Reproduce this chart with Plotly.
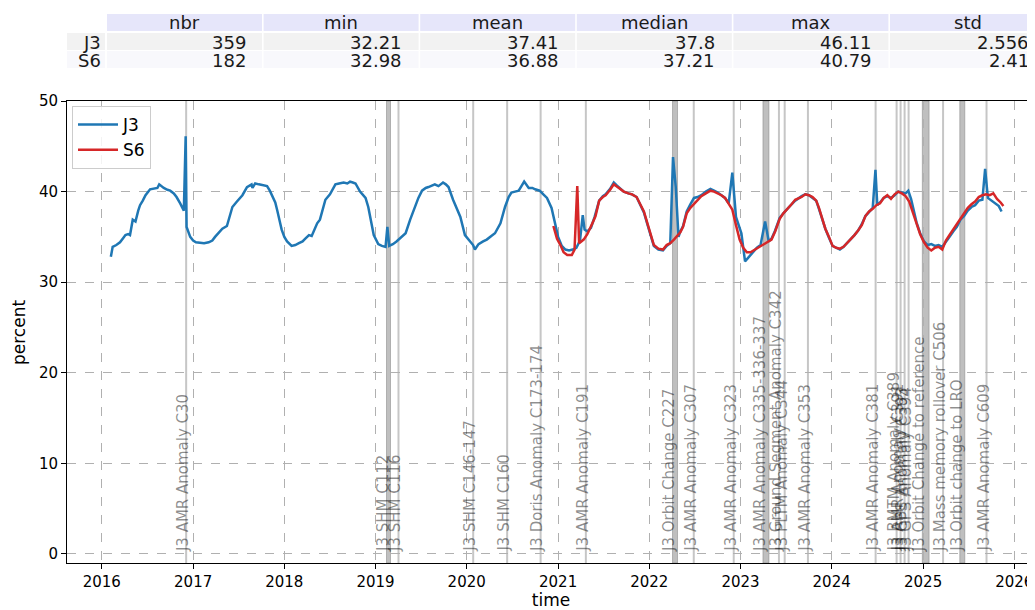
import plotly.graph_objects as go
from datetime import datetime, timedelta

# ---------------- data ----------------
j3_t = [2016.10, 2016.12, 2016.16, 2016.20, 2016.23, 2016.26, 2016.29, 2016.31, 2016.34, 2016.37,
        2016.40, 2016.42, 2016.45, 2016.48, 2016.53, 2016.59, 2016.61, 2016.63, 2016.68, 2016.72,
        2016.75, 2016.79, 2016.82, 2016.86, 2016.90, 2016.92, 2016.93, 2016.97, 2017.00, 2017.03,
        2017.08, 2017.12, 2017.17, 2017.21, 2017.24, 2017.28, 2017.32, 2017.37, 2017.40, 2017.43,
        2017.48, 2017.51, 2017.54, 2017.59, 2017.64, 2017.65, 2017.68, 2017.72, 2017.76, 2017.81,
        2017.84, 2017.87, 2017.90, 2017.92, 2017.95, 2017.97, 2018.00, 2018.03, 2018.08, 2018.12,
        2018.16, 2018.20, 2018.23, 2018.27, 2018.30, 2018.33, 2018.36, 2018.39, 2018.42, 2018.45,
        2018.50, 2018.53, 2018.56, 2018.60, 2018.65, 2018.69, 2018.72, 2018.75, 2018.78, 2018.83,
        2018.86, 2018.89, 2018.92, 2018.94, 2018.98, 2019.03, 2019.07, 2019.11, 2019.13, 2019.15,
        2019.19, 2019.23, 2019.28, 2019.33, 2019.38, 2019.43, 2019.47, 2019.51, 2019.55, 2019.58,
        2019.62, 2019.65, 2019.69, 2019.74, 2019.77, 2019.80, 2019.85, 2019.89, 2019.93, 2019.98,
        2020.04, 2020.07, 2020.09, 2020.13, 2020.18, 2020.22, 2020.27, 2020.31, 2020.37, 2020.42,
        2020.46, 2020.49, 2020.53, 2020.57, 2020.60, 2020.63, 2020.68, 2020.72, 2020.75, 2020.80,
        2020.84, 2020.88, 2020.93, 2020.97, 2021.00, 2021.04, 2021.08, 2021.12, 2021.16, 2021.20,
        2021.24, 2021.27, 2021.29, 2021.32, 2021.36, 2021.40, 2021.45, 2021.49, 2021.52, 2021.57,
        2021.61, 2021.64, 2021.68, 2021.72, 2021.77, 2021.81, 2021.86, 2021.90, 2021.94, 2021.99,
        2022.02, 2022.05, 2022.10, 2022.15, 2022.19, 2022.23, 2022.26, 2022.29, 2022.32, 2022.34,
        2022.37, 2022.41, 2022.45, 2022.49, 2022.53, 2022.57, 2022.62, 2022.67, 2022.71, 2022.75,
        2022.79, 2022.83, 2022.87, 2022.91, 2022.95, 2022.99, 2023.01, 2023.05, 2023.09, 2023.13,
        2023.18, 2023.22, 2023.27, 2023.31, 2023.34, 2023.38, 2023.43, 2023.47, 2023.51, 2023.56,
        2023.60, 2023.64, 2023.67, 2023.71, 2023.75, 2023.79, 2023.83, 2023.86, 2023.90, 2023.93,
        2023.97, 2024.01, 2024.05, 2024.09, 2024.13, 2024.17, 2024.21, 2024.25, 2024.29, 2024.33,
        2024.37, 2024.41, 2024.45, 2024.48, 2024.50, 2024.53, 2024.57, 2024.61, 2024.65, 2024.69,
        2024.73, 2024.77, 2024.81, 2024.84, 2024.87, 2024.90, 2024.93, 2024.97, 2025.01, 2025.05,
        2025.09, 2025.13, 2025.17, 2025.21, 2025.25, 2025.29, 2025.33, 2025.37, 2025.41, 2025.45,
        2025.49, 2025.53, 2025.57, 2025.61, 2025.65, 2025.68, 2025.71, 2025.75, 2025.79, 2025.83,
        2025.86]
j3_v = [32.8, 33.9, 34.1, 34.4, 34.8, 35.2, 35.3, 35.2, 36.9, 36.7,
        37.9, 38.5, 39.0, 39.6, 40.25, 40.4, 40.4, 40.8, 40.4, 40.2,
        40.1, 39.8, 39.4, 38.7, 37.9, 46.1, 36.1, 35.0, 34.6, 34.4,
        34.3, 34.3, 34.4, 34.6, 35.0, 35.5, 35.9, 36.2, 37.4, 38.3,
        38.9, 39.2, 39.6, 40.5, 40.8, 40.4, 40.9, 40.8, 40.7, 40.6,
        40.1, 39.4, 38.8, 38.0, 36.8, 35.8, 35.0, 34.5, 34.0, 34.1,
        34.3, 34.5, 34.8, 35.2, 35.1, 35.9, 36.5, 36.9, 38.0, 39.1,
        39.7, 40.2, 40.8, 40.9, 41.0, 40.9, 41.1, 41.0, 40.9, 40.0,
        39.7, 39.3, 38.3, 37.2, 35.2, 34.2, 34.0, 33.9, 36.1, 34.0,
        34.2, 34.5, 35.0, 35.4, 36.9, 38.3, 39.3, 40.1, 40.4, 40.5,
        40.7, 40.8, 40.6, 41.0, 40.8, 40.5, 39.1, 38.2, 37.2, 35.2,
        34.4, 34.1, 33.6, 34.2, 34.5, 34.7, 35.1, 35.4, 36.5, 38.3,
        39.4, 39.9, 40.0, 40.1, 40.6, 41.1, 40.4, 40.4, 40.25, 40.1,
        39.7, 39.3, 38.2, 36.5, 35.0, 34.0, 33.6, 33.5, 33.6, 33.8,
        34.6, 37.4, 35.8, 35.6, 36.0, 37.2, 39.0, 39.5, 39.7, 40.3,
        41.0, 40.7, 40.3, 40.0, 39.8, 39.7, 39.4, 38.6, 37.7, 36.0,
        35.0, 34.0, 33.6, 33.5, 34.0, 34.3, 43.8, 40.5, 35.0, 35.6,
        36.2, 37.8, 38.6, 39.3, 39.4, 39.6, 40.0, 40.3, 40.1, 39.9,
        39.6, 39.3, 38.7, 42.1, 37.2, 35.8, 35.4, 32.3, 32.8, 33.3,
        33.8, 34.1, 36.7, 34.5, 34.8, 35.7, 37.1, 37.6, 38.1, 38.6,
        39.0, 39.3, 39.5, 39.7, 39.6, 39.3, 39.0, 38.1, 36.8, 35.9,
        34.9, 34.0, 33.8, 33.6, 33.9, 34.3, 34.8, 35.2, 35.7, 36.4,
        37.3, 37.8, 38.2, 42.4, 38.5, 38.8, 39.3, 39.5, 39.3, 39.6,
        40.0, 39.9, 39.8, 40.1, 39.2, 37.9, 36.6, 35.4, 34.5, 34.1,
        34.2, 34.0, 34.1, 33.9, 34.4, 35.0, 35.6, 36.1, 36.9, 37.3,
        37.9, 38.3, 38.5, 39.0, 39.1, 42.5, 39.3, 39.0, 38.8, 38.4,
        37.8]

s6_t = [2020.95, 2020.99, 2021.03, 2021.06, 2021.10, 2021.15, 2021.18, 2021.21, 2021.23, 2021.28,
        2021.32, 2021.35, 2021.38, 2021.41, 2021.45, 2021.49, 2021.52, 2021.57, 2021.61, 2021.64,
        2021.68, 2021.72, 2021.77, 2021.81, 2021.86, 2021.90, 2021.94, 2021.99, 2022.02, 2022.05,
        2022.10, 2022.15, 2022.19, 2022.23, 2022.27, 2022.30, 2022.34, 2022.37, 2022.41, 2022.45,
        2022.49, 2022.53, 2022.57, 2022.62, 2022.67, 2022.71, 2022.75, 2022.79, 2022.83, 2022.87,
        2022.91, 2022.95, 2022.99, 2023.03, 2023.07, 2023.11, 2023.16, 2023.20, 2023.25, 2023.29,
        2023.34, 2023.38, 2023.43, 2023.47, 2023.51, 2023.56, 2023.60, 2023.64, 2023.67, 2023.71,
        2023.75, 2023.79, 2023.83, 2023.86, 2023.90, 2023.93, 2023.97, 2024.01, 2024.05, 2024.09,
        2024.13, 2024.17, 2024.21, 2024.25, 2024.29, 2024.33, 2024.37, 2024.41, 2024.45, 2024.49,
        2024.53, 2024.57, 2024.61, 2024.65, 2024.69, 2024.73, 2024.77, 2024.81, 2024.85, 2024.89,
        2024.93, 2024.97, 2025.01, 2025.05, 2025.09, 2025.13, 2025.17, 2025.21, 2025.25, 2025.29,
        2025.33, 2025.37, 2025.41, 2025.45, 2025.49, 2025.53, 2025.57, 2025.61, 2025.65, 2025.69,
        2025.73, 2025.77, 2025.81, 2025.85, 2025.88]
s6_v = [36.2, 34.8, 34.0, 33.3, 33.0, 33.0, 33.6, 40.6, 34.3, 34.7,
        35.3, 35.9, 36.6, 37.3, 39.0, 39.4, 39.6, 40.2, 40.8, 40.6,
        40.3, 40.0, 39.8, 39.7, 39.4, 38.6, 37.8, 36.1, 35.0, 34.1,
        33.7, 33.6, 34.1, 34.3, 34.7, 35.1, 35.5, 36.1, 37.6, 38.2,
        38.6, 39.1, 39.5, 39.8, 40.1, 40.0, 39.8, 39.6, 39.3, 38.7,
        38.0, 36.3, 34.7, 33.8, 33.3, 33.3, 33.6, 33.9, 34.2, 34.4,
        34.7, 35.6, 37.0, 37.6, 38.0, 38.6, 39.1, 39.3, 39.4, 39.7,
        39.6, 39.4, 39.0, 38.2, 36.9, 35.9, 35.0, 34.0, 33.8, 33.7,
        33.9, 34.3, 34.7, 35.2, 35.7, 36.3, 37.3, 37.8, 38.1, 38.5,
        38.7, 39.3, 39.6, 39.2, 39.7, 40.0, 39.8, 39.5, 38.9, 37.8,
        36.5, 35.3, 34.4, 33.8, 33.5, 33.8, 33.9, 33.6, 34.6, 35.2,
        35.8, 36.4, 37.1, 37.6, 38.2, 38.6, 38.9, 39.4, 39.6, 39.7,
        39.6, 39.8, 39.2, 38.8, 38.4]

# events: start, end (same = single line), label
ev_start = ["2016-12-04", "2019-02-14", "2019-04-03", "2020-01-27", "2020-06-11", "2020-10-23",
            "2021-04-22", "2022-04-04", "2022-06-28", "2022-12-05", "2023-04-01", "2023-06-04",
            "2023-06-27", "2023-09-28", "2024-06-25", "2024-09-17", "2024-10-03", "2024-10-19",
            "2024-11-04", "2024-12-29", "2025-03-22", "2025-05-28", "2025-09-12"]
ev_end = ["2016-12-04", "2019-03-02", "2019-04-03", "2020-01-27", "2020-06-11", "2020-10-23",
          "2021-04-22", "2022-04-24", "2022-06-28", "2022-12-05", "2023-04-25", "2023-06-04",
          "2023-06-27", "2023-09-28", "2024-06-25", "2024-09-17", "2024-10-03", "2024-10-19",
          "2024-11-04", "2025-01-25", "2025-03-22", "2025-06-17", "2025-09-12"]
ev_label = ["J3 AMR Anomaly C30", "J3 SHM C112", "J3 SHM C116", "J3 SHM C146-147", "J3 SHM C160",
            "J3 Doris Anomaly C173-174", "J3 AMR Anomaly C191", "J3 Orbit Change C227",
            "J3 AMR Anomaly C307", "J3 AMR Anomaly C323", "J3 AMR Anomaly C335-336-337",
            "J3 Ground Segment Anomaly C342", "J3 PLTM Anomaly C344", "J3 AMR Anomaly C353",
            "J3 AMR Anomaly C381", "J3 BMTM Anomaly C389", "J3 AMR Anomaly C391",
            "J3 GPS Anomaly C393", "J3 GPS Anomaly C394", "J3 Orbit Change to reference",
            "J3 Mass memory rollover C506", "J3 Orbit change to LRO", "J3 AMR Anomaly C609"]

# statistics table
stat_cols = ["nbr", "min", "mean", "median", "max", "std"]
stat_rows = ["J3", "S6"]
stat_nbr = ["359", "182"]
stat_min = ["32.21", "32.98"]
stat_mean = ["37.41", "36.88"]
stat_median = ["37.8", "37.21"]
stat_max = ["46.11", "40.79"]
stat_std = ["2.556", "2.41"]


def to_date(y):
    yr = int(y)
    return datetime(yr, 1, 1) + timedelta(days=(y - yr) * 365.25)


# page body has an 8px margin, so the figure is laid out 8px smaller
OFF = 8
W, H = 1035 - OFF, 610 - OFF
FONT = "DejaVu Sans"

PL, PR, PT, PB = 67 - OFF, 1035 - OFF, 101 - OFF, 563 - OFF


def px(X):
    return (X - OFF) / W


def py(Y):
    return 1 - (Y - OFF) / H


fig = go.Figure()

fig.add_trace(go.Scatter(x=[to_date(t) for t in j3_t], y=j3_v, mode="lines", name="J3",
                         line=dict(color="#1f77b4", width=2.5)))
fig.add_trace(go.Scatter(x=[to_date(t) for t in s6_t], y=s6_v, mode="lines", name="S6",
                         line=dict(color="#d62728", width=2.5)))

shapes = []
annotations = []
for s, e, lab in zip(ev_start, ev_end, ev_label):
    if s == e:
        shapes.append(dict(type="line", xref="x", yref="y domain", x0=s, x1=s, y0=0, y1=1,
                           line=dict(color="rgba(128,128,128,0.45)", width=2), layer="below"))
    else:
        shapes.append(dict(type="rect", xref="x", yref="y domain", x0=s, x1=e, y0=0, y1=1,
                           fillcolor="rgba(128,128,128,0.5)",
                           line=dict(color="rgba(128,128,128,0.5)", width=1), layer="below"))
    annotations.append(dict(x=s, y=0, xref="x", yref="y", text=lab, textangle=-90,
                            showarrow=False, xanchor="center", yanchor="bottom", xshift=-3,
                            font=dict(family=FONT, size=15, color="rgba(0,0,0,0.45)")))

# ---- statistics table drawn as cells (paper coordinates) ----
tbl_vals = [stat_nbr, stat_min, stat_mean, stat_median, stat_max, stat_std]
col_x0 = [107 + i * 156.6 for i in range(len(stat_cols))]
col_w = 155
idx_x0, idx_x1 = 67, 105
hdr_y = (14, 31)
row_y = [(33, 50), (51, 68)]
row_fill = ["#f2f2f2", "#f8f8fc"]
TFONT = dict(family=FONT, size=18, color="#1a1a1a")

for i, c in enumerate(stat_cols):
    x0 = col_x0[i]
    shapes.append(dict(type="rect", xref="paper", yref="paper", x0=px(x0), x1=px(x0 + col_w),
                       y0=py(hdr_y[1]), y1=py(hdr_y[0]), fillcolor="#e6e6fa", line_width=0))
    annotations.append(dict(x=px(x0 + col_w / 2), y=py(23), xref="paper", yref="paper", text=c,
                            showarrow=False, xanchor="center", yanchor="middle", font=TFONT,
                            borderpad=0))
for r, name in enumerate(stat_rows):
    y0, y1 = row_y[r]
    shapes.append(dict(type="rect", xref="paper", yref="paper", x0=px(idx_x0), x1=px(idx_x1),
                       y0=py(y1), y1=py(y0), fillcolor=row_fill[r], line_width=0))
    annotations.append(dict(x=px(idx_x1 - 3.5), y=py((y0 + y1) / 2 + 0.5), xref="paper",
                            yref="paper", text=name, showarrow=False, xanchor="right",
                            yanchor="middle", font=TFONT, borderpad=0))
    for i in range(len(stat_cols)):
        x0 = col_x0[i]
        shapes.append(dict(type="rect", xref="paper", yref="paper", x0=px(x0), x1=px(x0 + col_w),
                           y0=py(y1), y1=py(y0), fillcolor=row_fill[r], line_width=0))
        annotations.append(dict(x=px(x0 + col_w - 15.5), y=py((y0 + y1) / 2 + 0.5),
                                xref="paper", yref="paper", text=tbl_vals[i][r],
                                showarrow=False, xanchor="right", yanchor="middle", font=TFONT,
                                borderpad=0))

# y-axis title placed as an annotation to match position
annotations.append(dict(x=px(19), y=py(333), xref="paper", yref="paper",
                        text="percent", textangle=-90, showarrow=False,
                        xanchor="center", yanchor="middle",
                        font=dict(family=FONT, size=17, color="black")))

fig.update_layout(
    width=W, height=H,
    template="none",
    paper_bgcolor="white", plot_bgcolor="white",
    margin=dict(l=0, r=0, t=0, b=0),
    font=dict(family=FONT, size=15, color="black"),
    shapes=shapes, annotations=annotations,
    showlegend=True,
    legend=dict(x=px(72), y=py(106), xanchor="left", yanchor="top",
                bgcolor="rgba(255,255,255,0.85)", bordercolor="#cccccc", borderwidth=1,
                itemwidth=40, tracegroupgap=0,
                font=dict(family=FONT, size=17)),
    xaxis=dict(domain=[PL / W, 1.0], type="date",
               range=["2015-08-15", "2026-03-25"],
               tickvals=[f"{y}-01-01" for y in range(2016, 2027)],
               ticktext=[str(y) for y in range(2016, 2027)],
               showline=True, linecolor="black", linewidth=1, mirror=True,
               ticks="outside", ticklen=5, tickcolor="black",
               showgrid=True, gridcolor="#b0b0b0", griddash="dash", gridwidth=1,
               zeroline=False, automargin=False,
               title=dict(text="time", standoff=1, font=dict(size=17))),
    yaxis=dict(domain=[(H - PB) / H, 1 - PT / H],
               range=[-1, 50], tickvals=[0, 10, 20, 30, 40, 50],
               showline=True, linecolor="black", linewidth=1, mirror=True,
               ticks="outside", ticklen=5, tickcolor="black",
               showgrid=True, gridcolor="#b0b0b0", griddash="dash", gridwidth=1,
               zeroline=False, automargin=False),
)

fig.write_html("out.html")
